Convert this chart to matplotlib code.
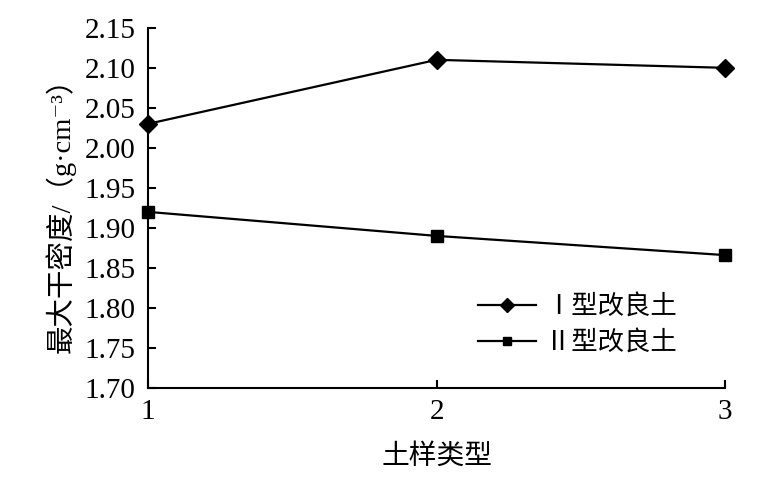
import matplotlib
matplotlib.use("Agg")
import matplotlib.pyplot as plt

plt.rcParams['font.family'] = ['Liberation Serif', 'DejaVu Serif', 'Noto Sans CJK SC']

x_vals = [1, 2, 3]
series1_name = "Ⅰ型改良土"
series1 = [2.03, 2.11, 2.10]
series2_name = "Ⅱ型改良土"
series2 = [1.92, 1.89, 1.866]
y_ticks = [1.70, 1.75, 1.80, 1.85, 1.90, 1.95, 2.00, 2.05, 2.10, 2.15]

fig = plt.figure(figsize=(7.57, 4.88), dpi=100)
ax = fig.add_axes([0.1955, 0.205, 0.7625, 0.738])

ax.plot(x_vals, series1, color='black', lw=1.6, marker='D', ms=9.5, label=series1_name, clip_on=False)
ax.plot(x_vals, series2, color='black', lw=1.6, marker='s', ms=8.5, label=series2_name, clip_on=False)

ax.set_xlim(1, 3)
ax.set_ylim(1.70, 2.15)
ax.set_xticks(x_vals)
ax.set_xticklabels([str(v) for v in x_vals])
ax.set_yticks(y_ticks)
ax.set_yticklabels([f"{v:.2f}" for v in y_ticks])

for s in ['top', 'right']:
    ax.spines[s].set_visible(False)
for s in ['left', 'bottom']:
    ax.spines[s].set_linewidth(1.5)
ax.tick_params(axis='both', direction='in', length=6, width=1.5, labelsize=21)
ax.tick_params(axis='x', pad=8)
ax.tick_params(axis='y', pad=9)

ax.set_ylabel("最大干密度/（g·cm⁻³）", fontsize=20.5, labelpad=6)
ax.set_xlabel("土样类型", fontsize=20, labelpad=14)

leg = fig.legend(loc='center left', bbox_to_anchor=(478 / 757, 1 - 324.5 / 488), frameon=False,
                 prop={'family': ['Noto Sans CJK SC'], 'size': 19},
                 handlelength=2.2, labelspacing=0.35, handletextpad=0.35,
                 borderpad=0, borderaxespad=0, markerscale=0.75)

fig.savefig("out.png", dpi=100)
